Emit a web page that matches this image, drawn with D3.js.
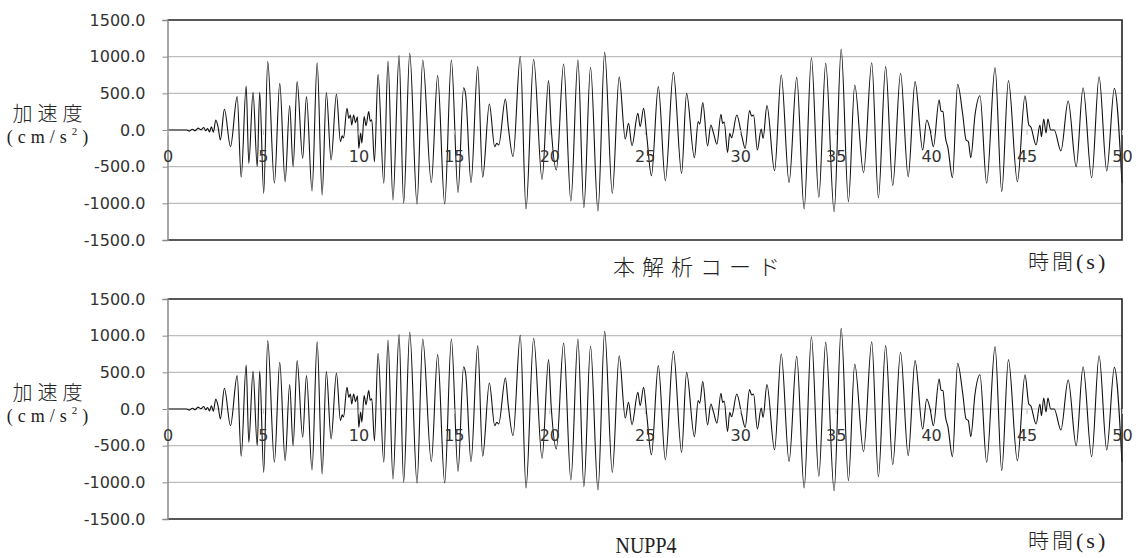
<!DOCTYPE html>
<html>
<head>
<meta charset="utf-8">
<script src="https://cdn.jsdelivr.net/npm/d3@7"></script>
<style>
  html, body { margin: 0; padding: 0; background: #fff; }
  svg { display: block; }
</style>
</head>
<body>
<svg id="chart" width="1139" height="558"></svg>
<script>
// ---- data (turning points of the acceleration record) ----
const time = [
  0, 1.0, 1.15, 1.3, 1.45, 1.6, 1.75, 1.9, 2.0, 2.1, 2.2, 2.3, 2.4, 2.53, 2.65, 2.77, 2.98, 3.3, 3.65, 3.86,
  4.12, 4.26, 4.48, 4.7, 4.83, 5.04, 5.25, 5.6, 5.88, 6.16, 6.4, 6.58, 6.79, 7.08, 7.28, 7.57, 7.84, 8.1, 8.32, 8.57,
  8.85, 9.06, 9.15, 9.22, 9.4, 9.5, 9.58, 9.65, 9.75, 9.85, 9.95, 10.02, 10.12, 10.18, 10.3, 10.4, 10.54, 10.62, 10.7, 10.84,
  11.03, 11.33, 11.55, 11.81, 12.13, 12.37, 12.69, 13.07, 13.37, 13.82, 14.15, 14.52, 14.87, 15.22, 15.51, 15.62, 15.9, 16.25, 16.51, 16.86,
  17.14, 17.25, 17.35, 17.7, 17.85, 18.1, 18.48, 18.78, 19.18, 19.62, 19.96, 20.1, 20.37, 20.75, 21.13, 21.5, 21.81, 22.16, 22.55, 22.9,
  23.3, 23.66, 23.98, 24.15, 24.33, 24.64, 24.76, 24.94, 25.1, 25.35, 25.71, 26.08, 26.5, 26.93, 27.19, 27.6, 27.8, 27.88, 28.04, 28.29,
  28.46, 28.6, 28.78, 28.99, 29.08, 29.16, 29.34, 29.45, 29.55, 29.82, 30.09, 30.26, 30.49, 30.6, 30.7, 30.9, 31.1, 31.2, 31.4, 31.8,
  32.15, 32.56, 32.96, 33.35, 33.73, 34.12, 34.48, 34.92, 35.29, 35.67, 36.0, 36.46, 36.89, 37.24, 37.62, 37.99, 38.4, 38.8, 39.16, 39.56,
  39.77, 39.95, 40.12, 40.42, 40.52, 40.62, 40.75, 40.88, 41.12, 41.39, 41.66, 41.83, 41.95, 42.08, 42.3, 42.56, 42.91, 43.35, 43.7, 44.05,
  44.52, 44.92, 45.12, 45.22, 45.5, 45.7, 45.78, 45.9, 46.02, 46.12, 46.26, 46.45, 46.8, 47.18, 47.6, 47.96, 48.41, 48.8, 49.2, 49.6,
  50.0
];
const accelCode = [
  0, 0, -15, 10, -10, 25, 5, 35, -10, 20, -25, 45, -30, 136, 40, -136, 282, -227, 455, -645,
  600, -455, 514, -500, 514, -864, 932, -727, 636, -705, 332, -500, 659, -386, 455, -832, 918, -886, 509, -409,
  491, -159, -80, -110, 295, 159, 205, 68, 205, 100, 180, -250, -40, -180, 182, 60, 250, 120, 140, -432,
  759, -727, 941, -955, 1014, -1000, 1045, -1009, 955, -718, 741, -1009, 955, -850, 577, 480, -718, 864, -645, 355,
  -227, -180, -205, 423, 50, -364, 1005, -1077, 964, -673, 673, 30, -545, 900, -968, 955, -1059, 855, -1105, 1059,
  -864, 727, -123, 91, -214, 227, 45, 295, -68, -623, 591, -691, 786, -591, 500, -377, 114, 80, 373, -218,
  68, -40, -195, 214, 91, 110, -305, -45, -105, 205, -91, -250, 264, 190, 205, -273, 14, -114, 332, -555,
  750, -718, 718, -1077, 986, -918, 909, -1114, 1100, -977, 614, -582, 918, -923, 864, -759, 773, -636, 659, -273,
  136, 0, -227, 409, 259, 250, -100, -240, -650, 623, 205, -136, -159, -377, 205, 468, -727, 850, -841, 673,
  -705, 468, 68, 45, -205, 68, -91, 150, -40, 150, 0, 0, -286, 395, -500, 577, -650, 727, -559, 568,
  -727
];
// the NUPP4 record is indistinguishable from the first one in the picture
const accelNUPP4 = accelCode.slice();

const yTicks = [-1500, -1000, -500, 0, 500, 1000, 1500];
const xTicks = [0, 5, 10, 15, 20, 25, 30, 35, 40, 45, 50];
const panelTitles = ["本解析コード", "NUPP4"];
const yTitle = "加速度";
const xTitle = "時間";

// ---- drawing ----
const svg = d3.select("#chart");
const xLeft = 167.5, xRight = 1122;
const panels = [
  { top: 20, bottom: 240, values: accelCode, title: panelTitles[0] },
  { top: 299, bottom: 519, values: accelNUPP4, title: panelTitles[1] }
];
const serif = "'Liberation Serif', 'DejaVu Serif', serif";
const cjk = "'Noto Sans CJK JP', sans-serif";

const x = d3.scaleLinear().domain([0, 50]).range([xLeft, xRight]);
const fmt1 = d3.format(".1f");
const fmt = d => fmt1(d).replace("\u2212", "-");

panels.forEach((p, pi) => {
  const y = d3.scaleLinear().domain([-1500, 1500]).range([p.bottom, p.top]);
  const g = svg.append("g");
  const y0 = y(0);

  // gridlines
  g.selectAll("line.grid").data(yTicks.filter(v => Math.abs(v) < 1500)).join("line")
    .attr("x1", xLeft).attr("x2", xRight)
    .attr("y1", d => y(d)).attr("y2", d => y(d))
    .attr("stroke", "#bdbdbd").attr("stroke-width", 1.2);

  // waveform
  const data = time.map((t, i) => [t, p.values[i]]);
  g.append("path")
    .datum(data)
    .attr("fill", "none")
    .attr("stroke", "#111")
    .attr("stroke-width", 1.1)
    .attr("d", d3.line().x(d => x(d[0])).y(d => y(d[1])).curve(d3.curveMonotoneX));

  // plot border
  g.append("path")
    .attr("d", `M${xLeft},${p.top}H${xRight}V${p.bottom}H${xLeft}`)
    .attr("fill", "none").attr("stroke", "#222").attr("stroke-width", 1.6);

  // y axis (left, gray)
  const yAxis = d3.axisLeft(y).tickValues(yTicks).tickFormat(fmt).tickSize(5).tickPadding(17);
  const ya = g.append("g").attr("transform", `translate(${xLeft},0)`).call(yAxis);
  ya.select(".domain").attr("stroke", "#8a8a8a").attr("stroke-width", 1.5);
  ya.selectAll(".tick line").attr("stroke", "#8a8a8a");
  ya.selectAll(".tick text")
    .attr("font-family", "DejaVu Sans").attr("font-size", 16).attr("fill", "#333");

  // x axis at zero line
  const xAxis = d3.axisBottom(x).tickValues(xTicks).tickFormat(d3.format("d")).tickSize(5).tickPadding(16);
  const xa = g.append("g").attr("transform", `translate(0,${y0})`).call(xAxis);
  xa.select(".domain").remove();
  xa.selectAll(".tick line").attr("stroke", "#bdbdbd");
  xa.selectAll(".tick text")
    .attr("font-family", "DejaVu Sans").attr("font-size", 16).attr("fill", "#333");

  // y title
  g.append("text")
    .attr("x", 50).attr("y", y0 - 9)
    .attr("text-anchor", "middle")
    .attr("font-family", cjk).attr("font-size", 20).attr("font-weight", 300)
    .attr("letter-spacing", 5).attr("fill", "#222")
    .text(yTitle);
  const unit = g.append("text")
    .attr("x", 50).attr("y", y0 + 13)
    .attr("text-anchor", "middle")
    .attr("font-family", serif).attr("font-size", 18)
    .attr("letter-spacing", 5).attr("fill", "#222");
  unit.append("tspan").text("(cm/s");
  unit.append("tspan").attr("font-size", 11).attr("dy", -8).text("2");
  unit.append("tspan").attr("dy", 8).text(")");

  // x title
  const xt = g.append("text")
    .attr("x", 1028).attr("y", p.bottom + 29)
    .attr("fill", "#222");
  xt.append("tspan").attr("font-family", cjk).attr("font-size", 21).attr("font-weight", 300)
    .attr("letter-spacing", 3).text(xTitle);
  xt.append("tspan").attr("font-family", serif).attr("font-size", 22)
    .attr("letter-spacing", 3).text("(s)");

  // panel title
  if (pi === 0) {
    g.append("text")
      .attr("x", 700).attr("y", p.bottom + 35)
      .attr("text-anchor", "middle")
      .attr("font-family", cjk).attr("font-size", 22).attr("font-weight", 300)
      .attr("letter-spacing", 7).attr("fill", "#222")
      .text(p.title);
  } else {
    g.append("text")
      .attr("transform", `translate(646,553) scale(0.83,1)`)
      .attr("text-anchor", "middle")
      .attr("font-family", serif).attr("font-size", 24)
      .attr("fill", "#222")
      .text(p.title);
  }
});
</script>
</body>
</html>
